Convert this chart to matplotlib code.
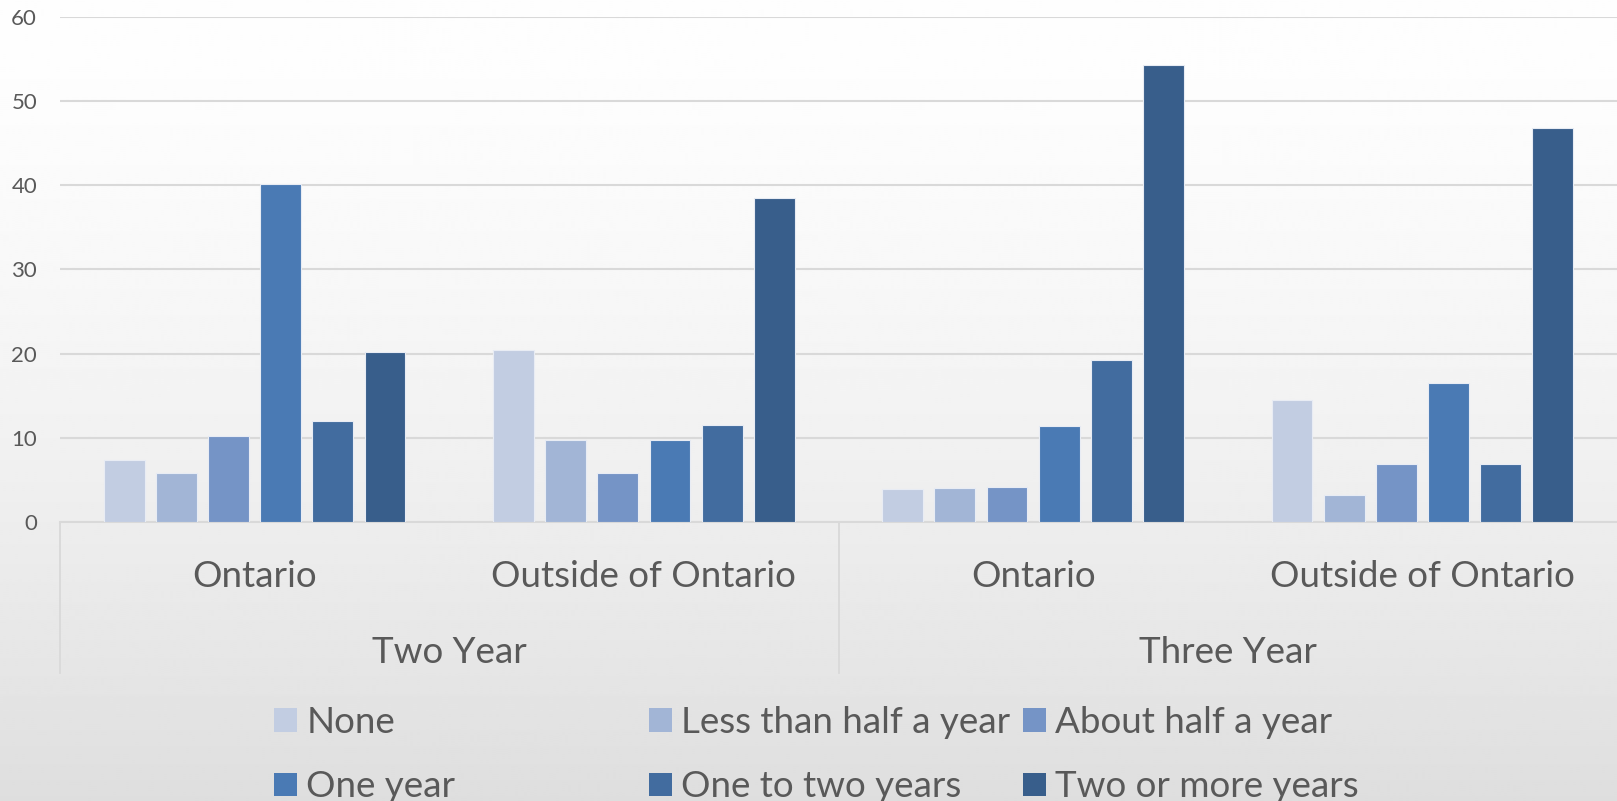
import numpy as np
import matplotlib
matplotlib.use("Agg")
import matplotlib.pyplot as plt
from matplotlib.patches import Patch

# ---- data ----
groups = ["Two Year", "Three Year"]
subcats = ["Ontario", "Outside of Ontario"]
series = ["None", "Less than half a year", "About half a year",
          "One year", "One to two years", "Two or more years"]
none_vals = [7.4, 20.4, 3.9, 14.5]
less_half = [5.8, 9.7, 4.0, 3.2]
about_half = [10.2, 5.8, 4.1, 6.9]
one_year = [40.1, 9.7, 11.4, 16.5]
one_two = [12.0, 11.5, 19.2, 6.9]
two_more = [20.2, 38.4, 54.2, 46.8]
yticks = [0, 10, 20, 30, 40, 50, 60]

values = [none_vals, less_half, about_half, one_year, one_two, two_more]
colors = ["#C2CDE2", "#A2B5D6", "#7594C6", "#4A7AB4", "#426C9F", "#385E8B"]

W, H = 1617, 801
fig = plt.figure(figsize=(W / 100, H / 100), dpi=100)
FONT = "Lato"
TXT = "#595959"
FS = 26.5

# background gradient
bg = fig.add_axes([0, 0, 1, 1], zorder=-10)
yy = np.linspace(0, 1, 400)[:, None]
shade = (254 - 32 * yy ** 1.5) / 255.0
bg.imshow(np.repeat(shade, 2, axis=1), cmap="gray", vmin=0, vmax=1,
          aspect="auto", extent=[0, 1, 1, 0])
bg.set_axis_off()

left, right = 60 / W, 1.0
bottom, top = (H - 522) / H, (H - 16.5) / H
ax = fig.add_axes([left, bottom, right - left, top - bottom])
ax.patch.set_alpha(0)

n_cat = len(groups) * len(subcats)
x = np.arange(n_cat) + 0.5
pitch = 0.134
bw = 0.105
for i, (vals, col, name) in enumerate(zip(values, colors, series)):
    offs = (i - 2.5) * pitch
    ax.bar(x + offs, vals, width=bw, color=col, edgecolor="#E8ECF4",
           linewidth=0.8, label=name, zorder=3)

ax.set_xlim(0, n_cat)
ax.set_ylim(0, 60)
ax.set_yticks(yticks)
ax.set_yticklabels([str(v) for v in yticks], fontsize=16, color=TXT,
                   family=FONT)
ax.tick_params(axis="y", length=0, pad=16.5)
ax.tick_params(axis="x", length=0, labelbottom=False)
ax.grid(axis="y", color="#D9D9D9", linewidth=1.5, zorder=0)
for s in ["left", "right", "top"]:
    ax.spines[s].set_visible(False)
ax.spines["bottom"].set_color("#D9D9D9")
ax.spines["bottom"].set_linewidth(1.5)

# multi-level category axis
trans = ax.get_xaxis_transform()
def fy(py):
    return (H - py - bottom * H) / ((top - bottom) * H)

labels_lvl1 = subcats * len(groups)
for xi, lab in zip(x, labels_lvl1):
    ax.text(xi, fy(587), lab, transform=trans, ha="center", va="baseline",
            fontsize=FS, color=TXT, family=FONT, clip_on=False)
for gi, g in enumerate(groups):
    ax.text(gi * 2 + 1, fy(663), g, transform=trans, ha="center",
            va="baseline", fontsize=FS, color=TXT, family=FONT, clip_on=False)
for xv in [0, 2]:
    ax.plot([xv, xv], [0, fy(673)], transform=trans, color="#D9D9D9",
            linewidth=1.3, clip_on=False)

# legend: three columns, row-major order
handles = [Patch(facecolor=c, edgecolor="none") for c in colors]
col_x = [274, 649, 1023]
for ci in range(3):
    idx = [ci, ci + 3]
    fig.legend([handles[k] for k in idx], [series[k] for k in idx],
               loc="upper left", bbox_to_anchor=(col_x[ci] / W, (H - 706) / H),
               frameon=False, borderpad=0, borderaxespad=0,
               handlelength=0.625, handleheight=0.6, handletextpad=0.25,
               labelspacing=0.85, labelcolor=TXT,
               prop={"family": FONT, "size": FS})

fig.savefig("out.png", dpi=100)
